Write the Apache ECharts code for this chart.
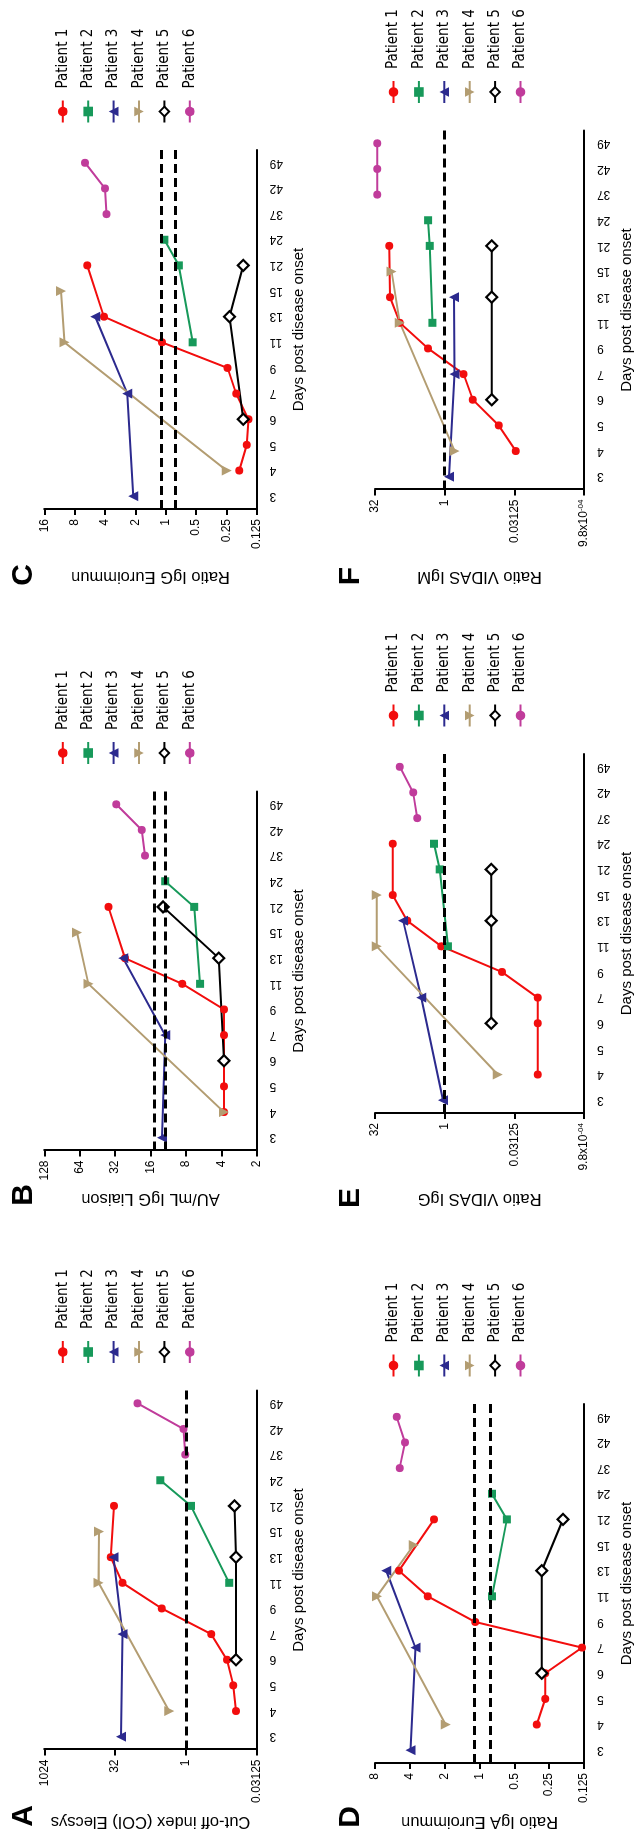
<!DOCTYPE html>
<html>
<head>
<meta charset="utf-8">
<script src="https://cdn.jsdelivr.net/npm/echarts@6/dist/echarts.min.js"></script>
<style>
  html, body { margin: 0; padding: 0; background: #fff; overflow: hidden; }
  #page { position: relative; width: 635px; height: 1839px; overflow: hidden; }
  /* the figure is drawn landscape and turned a quarter turn counter-clockwise */
  #chart {
    position: absolute; left: 0; top: 0; width: 1839px; height: 635px;
    transform-origin: 0 0; transform: translate(0px, 1839px) rotate(-90deg);
  }
</style>
</head>
<body>
<div id="page"><div id="chart"></div></div>
<script>
const DAYS = ["3", "4", "5", "6", "7", "9", "11", "13", "15", "21", "24", "37", "42", "49"];
const PATIENTS = ["Patient 1", "Patient 2", "Patient 3", "Patient 4", "Patient 5", "Patient 6"];

// [day, value] per patient
const PANEL_A = [
  [[4, 0.086], [5, 0.098], [6, 0.134], [7, 0.29], [9, 3.25], [11, 22.4], [13, 39.6], [21, 33.6]],
  [[11, 0.12], [21, 0.78], [24, 3.5]],
  [[3, 24], [7, 22.4], [13, 34.7]],
  [[4, 2.27], [11, 72], [15, 70]],
  [[6, 0.086], [13, 0.086], [21, 0.093]],
  [[37, 1.03], [42, 1.12], [49, 10.7]],
];
const PANEL_B = [
  [[4, 3.8], [5, 3.8], [6, 3.8], [7, 3.8], [9, 3.8], [11, 8.6], [13, 26.4], [21, 36.5]],
  [[11, 6.06], [21, 6.8], [24, 12.0]],
  [[3, 12.8], [7, 12.0], [13, 27.3]],
  [[4, 3.8], [11, 54], [15, 67.6]],
  [[6, 3.8], [13, 4.2], [21, 12.5]],
  [[37, 17.8], [42, 19.0], [49, 31.3]],
];
const PANEL_C = [
  [[4, 0.186], [5, 0.157], [6, 0.151], [7, 0.2], [9, 0.243], [11, 1.09], [13, 4.1], [21, 6.0]],
  [[11, 0.54], [21, 0.74], [24, 1.03]],
  [[3, 2.1], [7, 2.4], [13, 5.0]],
  [[4, 0.248], [11, 10.1], [15, 10.9]],
  [[6, 0.17], [13, 0.233], [21, 0.17]],
  [[37, 3.87], [42, 4.0], [49, 6.3]],
];
const PANEL_D = [
  [[4, 0.32], [5, 0.27], [6, 0.27], [7, 0.13], [9, 1.09], [11, 2.8], [13, 4.97], [21, 2.47]],
  [[11, 0.78], [21, 0.58], [24, 0.78]],
  [[3, 3.95], [7, 3.58], [13, 6.4]],
  [[4, 1.96], [11, 7.7], [15, 3.7]],
  [[6, 0.29], [13, 0.29], [21, 0.19]],
  [[37, 4.9], [42, 4.4], [49, 5.2]],
];
const PANEL_E = [
  [[4, 0.0098], [6, 0.0098], [7, 0.0098], [9, 0.058], [11, 1.18], [13, 6.45], [15, 13.3], [24, 13.3]],
  [[11, 0.85], [21, 1.28], [24, 1.7]],
  [[3, 1.09], [7, 3.2], [13, 7.9]],
  [[4, 0.071], [11, 29.5], [15, 29.5]],
  [[6, 0.099], [13, 0.099], [21, 0.099]],
  [[37, 3.9], [42, 4.8], [49, 9.3]],
];
const PANEL_F = [
  [[4, 0.029], [5, 0.068], [6, 0.246], [7, 0.39], [9, 2.28], [11, 9.3], [13, 15.2], [21, 15.7]],
  [[11, 1.84], [21, 2.1], [24, 2.28]],
  [[3, 0.81], [7, 0.61], [13, 0.63]],
  [[4, 0.61], [11, 9.3], [15, 14]],
  [[6, 0.096], [13, 0.096], [21, 0.096]],
  [[37, 28.5], [42, 28.5], [49, 28.5]],
];

// cut-offs (dashed lines)
const CUT_A = [1];
const CUT_B = [12, 15];
const CUT_C = [0.8, 1.1];
const CUT_D = [0.8, 1.1];
const CUT_E = [1];
const CUT_F = [1];

// log2 tick exponents and their labels
const EXP_A = [-5, 0, 5, 10], TICK_A = ["0.03125", "1", "32", "1024"];
const EXP_B = [1, 2, 3, 4, 5, 6, 7], TICK_B = ["2", "4", "8", "16", "32", "64", "128"];
const EXP_C = [-3, -2, -1, 0, 1, 2, 3, 4], TICK_C = ["0.125", "0.25", "0.5", "1", "2", "4", "8", "16"];
const EXP_D = [-3, -2, -1, 0, 1, 2, 3], TICK_D = ["0.125", "0.25", "0.5", "1", "2", "4", "8"];
const EXP_EF = [-10, -5, 0, 5], TICK_EF = ["{b|9.8x10}{s|-04}", "0.03125", "1", "32"];

const COLORS = ["#f20d0d", "#17995a", "#2c2a8e", "#b39d72", "#000000", "#c03c9b"];
const SYMBOLS = ["circle", "rect", "triangle", "triangle", "diamond", "circle"];
const FONT = "'Liberation Sans', Arial, sans-serif";
const NARROW = "'Liberation Sans Narrow', 'DejaVu Sans Condensed', 'Liberation Sans', sans-serif";

const panels = [
  { key: "A", data: PANEL_A, cut: CUT_A, exp: EXP_A, tick: TICK_A, step: 5, name: "Cut-off index (COI) Elecsys",
    left: 89.5, top: 44.3, height: 212.4, nameGap: 64, lx: 23, ly: 24 },
  { key: "B", data: PANEL_B, cut: CUT_B, exp: EXP_B, tick: TICK_B, step: 1, name: "AU/mL IgG Liaison",
    left: 688.5, top: 44.3, height: 212.4, nameGap: 40, lx: 644, ly: 24 },
  { key: "C", data: PANEL_C, cut: CUT_C, exp: EXP_C, tick: TICK_C, step: 1, name: "Ratio IgG Euroimmun",
    left: 1330, top: 44.3, height: 212.4, nameGap: 59, lx: 1264, ly: 24 },
  { key: "D", data: PANEL_D, cut: CUT_D, exp: EXP_D, tick: TICK_D, step: 1, name: "Ratio IgA Euroimmun",
    left: 76, top: 375, height: 210.5, nameGap: 50, lx: 22, ly: 351 },
  { key: "E", data: PANEL_E, cut: CUT_E, exp: EXP_EF, tick: TICK_EF, step: 5, name: "Ratio VIDAS IgG",
    left: 726, top: 375, height: 210.5, nameGap: 77, lx: 641, ly: 351 },
  { key: "F", data: PANEL_F, cut: CUT_F, exp: EXP_EF, tick: TICK_EF, step: 5, name: "Ratio VIDAS IgM",
    left: 1349.5, top: 375, height: 210.5, nameGap: 79, lx: 1263, ly: 351 },
];

const PLOT_W = 359;

const grid = [], xAxis = [], yAxis = [], legend = [], series = [], graphic = [];

panels.forEach((p, i) => {
  grid.push({ left: p.left, top: p.top, width: PLOT_W, height: p.height });

  xAxis.push({
    type: "category",
    gridIndex: i,
    data: DAYS,
    name: "Days post disease onset",
    nameLocation: "middle",
    nameGap: 35,
    nameTextStyle: { color: "#000", fontSize: 15, fontFamily: FONT },
    axisLine: { lineStyle: { color: "#000", width: 2 } },
    axisTick: { alignWithLabel: true, interval: 0, length: 7, lineStyle: { width: 2 } },
    axisLabel: { interval: 0, rotate: 90, margin: 13, color: "#000", fontSize: 12, fontFamily: FONT },
    splitLine: { show: false },
  });

  yAxis.push({
    type: "log",
    logBase: 2,
    gridIndex: i,
    min: Math.pow(2, p.exp[0]),
    max: Math.pow(2, p.exp[p.exp.length - 1]),
    interval: p.step,
    name: p.name,
    nameLocation: "middle",
    nameRotate: 90,
    nameGap: p.nameGap,
    nameTextStyle: { color: "#000", fontSize: 16.5, fontFamily: FONT },
    axisLine: { show: true, lineStyle: { color: "#000", width: 2 } },
    axisTick: { show: true, length: 6, lineStyle: { width: 2 } },
    minorTick: { show: false },
    splitLine: { show: false },
    axisLabel: {
      margin: 10,
      color: "#000",
      fontSize: 12,
      fontFamily: FONT,
      showMinLabel: true,
      showMaxLabel: true,
      formatter: (v) => {
        const k = p.exp.indexOf(Math.round(Math.log2(v)));
        return k < 0 ? "" : p.tick[k];
      },
      rich: {
        b: { fontSize: 12, fontFamily: FONT, color: "#000" },
        s: { fontSize: 8, fontFamily: FONT, color: "#000", padding: [0, 0, 7, 0] },
      },
    },
  });

  legend.push({
    data: PATIENTS,
    orient: "vertical",
    left: p.left + PLOT_W + 21.5,
    top: p.top + 13 - 7,
    itemWidth: 22,
    itemHeight: 12,
    itemGap: 10.4,
    selectedMode: false,
    textStyle: { color: "#000", fontSize: 15, fontFamily: NARROW, lineHeight: 14, padding: [0, 0, 0, 7] },
  });

  p.data.forEach((pts, j) => {
    series.push({
      name: PATIENTS[j],
      type: "line",
      xAxisIndex: i,
      yAxisIndex: i,
      data: pts.map(([d, v]) => [String(d), v]),
      symbol: SYMBOLS[j],
      symbolSize: j === 4 ? 11 : j === 2 || j === 3 ? 10 : 8,
      symbolRotate: j === 3 ? 180 : 0,
      showAllSymbol: true,
      connectNulls: true,
      lineStyle: { color: COLORS[j], width: 2 },
      itemStyle: j === 4
        ? { color: "#fff", borderColor: "#000", borderWidth: 2.2 }
        : { color: COLORS[j], borderWidth: 0 },
      emphasis: { disabled: true },
      z: 3,
    });
  });

  // dashed cut-off lines across the whole plot
  series.push({
    name: "cut-off " + p.key,
    type: "line",
    xAxisIndex: i,
    yAxisIndex: i,
    data: [],
    z: 2,
    markLine: {
      silent: true,
      symbol: "none",
      label: { show: false },
      animation: false,
      lineStyle: { color: "#000", width: 3, type: [9, 5] },
      data: p.cut.map((v) => ({ yAxis: v })),
    },
  });

  graphic.push({
    type: "text",
    x: p.lx,
    y: p.ly,
    style: {
      text: p.key,
      font: "bold 30px " + FONT,
      fill: "#000",
      textAlign: "center",
      textVerticalAlign: "middle",
    },
  });
});

const chart = echarts.init(document.getElementById("chart"), null, { renderer: "canvas" });
chart.setOption({
  backgroundColor: "#fff",
  animation: false,
  grid,
  xAxis,
  yAxis,
  legend,
  series,
  graphic,
});
</script>
</body>
</html>
